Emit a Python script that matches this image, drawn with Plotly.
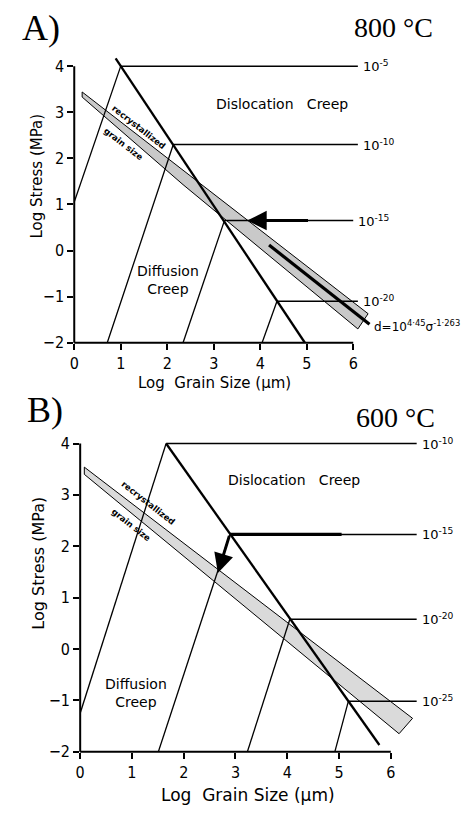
import plotly.graph_objects as go

# ---------------- Panel A (800 °C) ----------------
A_rate_labels = ["10<sup>-5</sup>", "10<sup>-10</sup>", "10<sup>-15</sup>", "10<sup>-20</sup>"]
A_junction_x = [1.0, 2.13, 3.23, 4.36]
A_junction_y = [4.0, 2.3, 0.65, -1.1]
A_diff_base_x = [0.0, 0.71, 2.34, 4.04]
A_diff_base_y = [1.05, -2.0, -2.0, -2.0]
A_disl_end_x = [6.1, 6.1, 6.0, 6.1]
A_boundary_x = [0.89, 4.96]
A_boundary_y = [4.17, -2.0]
A_band_upper_x = [0.17, 6.32]
A_band_upper_y = [3.44, -1.37]
A_band_lower_x = [0.17, 2.34, 6.1]
A_band_lower_y = [3.33, 1.43, -1.7]
A_piezo_x = [4.19, 6.35]
A_piezo_y = [0.12, -1.6]
A_arrow_tail = (5.06, 0.65)
A_arrow_tip = (3.72, 0.65)

# ---------------- Panel B (600 °C) ----------------
B_rate_labels = ["10<sup>-10</sup>", "10<sup>-15</sup>", "10<sup>-20</sup>", "10<sup>-25</sup>"]
B_junction_x = [1.66, 2.89, 4.05, 5.18]
B_junction_y = [4.0, 2.23, 0.58, -1.02]
B_diff_base_x = [0.0, 1.51, 3.23, 4.92]
B_diff_base_y = [-1.25, -2.0, -2.0, -2.0]
B_disl_end_x = [6.5, 6.5, 6.5, 6.5]
B_boundary_x = [1.66, 5.78]
B_boundary_y = [4.0, -1.87]
B_band_upper_x = [0.08, 6.42]
B_band_upper_y = [3.54, -1.35]
B_band_lower_x = [0.08, 6.16]
B_band_lower_y = [3.40, -1.65]
B_thick_x = [2.89, 5.05]
B_thick_y = [2.23, 2.23]
B_arrow_tail = (2.89, 2.23)
B_arrow_tip = (2.66, 1.48)

x_ticks = [0, 1, 2, 3, 4, 5, 6]
y_ticks = [-2, -1, 0, 1, 2, 3, 4]

SANS = "DejaVu Sans"
TICKFONT = "DejaVu Sans Condensed, Liberation Sans Narrow, DejaVu Sans"
SERIF = "Liberation Serif"
W, H = 465, 818

# ---- layout geometry (pixels) ----
A_X0, A_PX, A_YB, A_PY = 70, 47.0, 347, 46.67
A_XR, A_YR = [0, 6.6], [-2, 4.4]
B_X0, B_PX, B_YB, B_PY = 76, 52.33, 761, 52.0
B_XR, B_YR = [0, 6.6], [-2, 4.2]


def dom(x0, ppx, yb, ppy, xr, yr):
    xd = [x0 / W, (x0 + (xr[1] - xr[0]) * ppx) / W]
    yd = [(H - yb) / H, (H - (yb - (yr[1] - yr[0]) * ppy)) / H]
    return xd, yd


A_xd, A_yd = dom(A_X0, A_PX, A_YB, A_PY, A_XR, A_YR)
B_xd, B_yd = dom(B_X0, B_PX, B_YB, B_PY, B_XR, B_YR)

fig = go.Figure()


def add_panel(xa, ya, band_ux, band_uy, band_lx, band_ly, band_fill,
              junc_x, junc_y, base_x, base_y, end_x, bnd_x, bnd_y):
    px = list(band_ux) + list(reversed(band_lx)) + [band_ux[0]]
    py = list(band_uy) + list(reversed(band_ly)) + [band_uy[0]]
    fig.add_trace(go.Scatter(x=px, y=py, xaxis=xa, yaxis=ya, mode="lines",
                             fill="toself", fillcolor=band_fill,
                             line=dict(color="black", width=1),
                             hoverinfo="skip", showlegend=False))
    for bx, by, jx, jy in zip(base_x, base_y, junc_x, junc_y):
        fig.add_trace(go.Scatter(x=[bx, jx], y=[by, jy], xaxis=xa, yaxis=ya,
                                 mode="lines", line=dict(color="black", width=1.3),
                                 hoverinfo="skip", showlegend=False))
    for jx, jy, ex in zip(junc_x, junc_y, end_x):
        fig.add_trace(go.Scatter(x=[jx, ex], y=[jy, jy], xaxis=xa, yaxis=ya,
                                 mode="lines", line=dict(color="black", width=1.5),
                                 hoverinfo="skip", showlegend=False))
    fig.add_trace(go.Scatter(x=bnd_x, y=bnd_y, xaxis=xa, yaxis=ya, mode="lines",
                             line=dict(color="black", width=2.3),
                             hoverinfo="skip", showlegend=False))


add_panel("x", "y", A_band_upper_x, A_band_upper_y, A_band_lower_x, A_band_lower_y,
          "#c9c9c9", A_junction_x, A_junction_y, A_diff_base_x, A_diff_base_y,
          A_disl_end_x, A_boundary_x, A_boundary_y)
add_panel("x2", "y2", B_band_upper_x, B_band_upper_y, B_band_lower_x, B_band_lower_y,
          "#dadada", B_junction_x, B_junction_y, B_diff_base_x, B_diff_base_y,
          B_disl_end_x, B_boundary_x, B_boundary_y)

fig.add_trace(go.Scatter(x=A_piezo_x, y=A_piezo_y, xaxis="x", yaxis="y", mode="lines",
                         line=dict(color="black", width=3.2),
                         hoverinfo="skip", showlegend=False))
fig.add_trace(go.Scatter(x=B_thick_x, y=B_thick_y, xaxis="x2", yaxis="y2", mode="lines",
                         line=dict(color="black", width=3.2),
                         hoverinfo="skip", showlegend=False))

ann = []
for lab, ex, jy in zip(A_rate_labels, A_disl_end_x, A_junction_y):
    ann.append(dict(x=ex, y=jy, xref="x", yref="y", text=lab, showarrow=False,
                    xanchor="left", yanchor="middle", xshift=3,
                    font=dict(family=SANS, size=13, color="black")))
for lab, ex, jy in zip(B_rate_labels, B_disl_end_x, B_junction_y):
    ann.append(dict(x=ex, y=jy, xref="x2", yref="y2", text=lab, showarrow=False,
                    xanchor="left", yanchor="middle", xshift=3,
                    font=dict(family=SANS, size=13, color="black")))
ann.append(dict(x=A_arrow_tip[0], y=A_arrow_tip[1], ax=A_arrow_tail[0], ay=A_arrow_tail[1],
                xref="x", yref="y", axref="x", ayref="y", text="", showarrow=True,
                arrowhead=2, arrowsize=1.3, arrowwidth=3, arrowcolor="black"))
ann.append(dict(x=B_arrow_tip[0], y=B_arrow_tip[1], ax=B_arrow_tail[0], ay=B_arrow_tail[1],
                xref="x2", yref="y2", axref="x2", ayref="y2", text="", showarrow=True,
                arrowhead=2, arrowsize=1.3, arrowwidth=3, arrowcolor="black"))
ann.append(dict(x=A_piezo_x[1], y=A_piezo_y[1], xref="x", yref="y",
                text="d=10<sup>4·45</sup>σ<sup>-1·263</sup>", showarrow=False,
                xanchor="left", yanchor="middle", xshift=3, yshift=-2,
                font=dict(family=SANS, size=12, color="black")))
NB = "\u00a0"
REG = dict(family=SANS, size=14, color="black")
ann += [
    dict(x=4.47, y=3.19, xref="x", yref="y", text="Dislocation" + NB * 3 + "Creep",
         showarrow=False, font=REG),
    dict(x=2.02, y=-0.63, xref="x", yref="y", text="Diffusion<br>Creep",
         showarrow=False, font=REG),
    dict(x=4.13, y=3.29, xref="x2", yref="y2", text="Dislocation" + NB * 3 + "Creep",
         showarrow=False, font=REG),
    dict(x=1.07, y=-0.85, xref="x2", yref="y2", text="Diffusion<br>Creep",
         showarrow=False, font=REG),
]
SMALL = dict(family=SANS, size=8.5, color="black")
ann += [
    dict(x=1.38, y=2.67, xref="x", yref="y", text="<b>recrystallized</b>", textangle=38,
         showarrow=False, font=SMALL),
    dict(x=1.06, y=2.31, xref="x", yref="y", text="<b>grain size</b>", textangle=38,
         showarrow=False, font=SMALL),
    dict(x=1.32, y=2.85, xref="x2", yref="y2", text="<b>recrystallized</b>", textangle=38,
         showarrow=False, font=SMALL),
    dict(x=0.99, y=2.42, xref="x2", yref="y2", text="<b>grain size</b>", textangle=38,
         showarrow=False, font=SMALL),
]
TITLE = dict(family=SANS, size=15, color="black")
ann += [
    dict(x=32 / W, y=(H - 178) / H, xref="paper", yref="paper", text="Log Stress (MPa)",
         textangle=-90, showarrow=False, xanchor="center", yanchor="middle", font=TITLE),
    dict(x=212 / W, y=(H - 388) / H, xref="paper", yref="paper",
         text="Log" + NB + " Grain Size (μm)", showarrow=False,
         xanchor="center", yanchor="middle", font=TITLE),
    dict(x=33 / W, y=(H - 570) / H, xref="paper", yref="paper", text="Log Stress (MPa)",
         textangle=-90, showarrow=False, xanchor="center", yanchor="middle",
         font=dict(family=SANS, size=16, color="black")),
    dict(x=246 / W, y=(H - 805) / H, xref="paper", yref="paper",
         text="Log" + NB + " Grain Size (μm)", showarrow=False,
         xanchor="center", yanchor="middle", font=dict(family=SANS, size=17, color="black")),
]
ann += [
    dict(x=15 / W, y=(H - 28) / H, xref="paper", yref="paper", text="A)",
         xanchor="left", yanchor="middle", showarrow=False,
         font=dict(family=SERIF, size=36, color="black")),
    dict(x=435 / W, y=(H - 28) / H, xref="paper", yref="paper", text="800 °C",
         xanchor="right", yanchor="middle", showarrow=False,
         font=dict(family=SERIF, size=28, color="black")),
    dict(x=20 / W, y=(H - 415) / H, xref="paper", yref="paper", text="B)",
         xanchor="left", yanchor="middle", showarrow=False,
         font=dict(family=SERIF, size=36, color="black")),
    dict(x=437 / W, y=(H - 423) / H, xref="paper", yref="paper", text="600 °C",
         xanchor="right", yanchor="middle", showarrow=False,
         font=dict(family=SERIF, size=28, color="black")),
]

shapes = []
for x0, ppx, yb, ppy in [(A_X0, A_PX, A_YB, A_PY), (B_X0, B_PX, B_YB, B_PY)]:
    shapes.append(dict(type="line", xref="paper", yref="paper",
                       x0=x0 / W, x1=(x0 + 6 * ppx) / W, y0=(H - yb) / H, y1=(H - yb) / H,
                       line=dict(color="black", width=2)))
    shapes.append(dict(type="line", xref="paper", yref="paper",
                       x0=x0 / W, x1=x0 / W, y0=(H - yb) / H, y1=(H - (yb - 6 * ppy)) / H,
                       line=dict(color="black", width=2)))

axis_common = dict(showgrid=False, zeroline=False, showline=False,
                   ticks="outside", ticklen=6, tickwidth=2, tickcolor="black",
                   tickfont=dict(family=TICKFONT, size=16, color="black"), fixedrange=True)

fig.update_layout(
    width=W, height=H, margin=dict(l=0, r=0, t=0, b=0),
    paper_bgcolor="white", plot_bgcolor="rgba(0,0,0,0)", showlegend=False,
    xaxis=dict(domain=A_xd, range=A_XR, tickvals=x_ticks, anchor="y", **axis_common),
    yaxis=dict(domain=A_yd, range=A_YR, tickvals=y_ticks, anchor="x", **axis_common),
    xaxis2=dict(domain=B_xd, range=B_XR, tickvals=x_ticks, anchor="y2", **axis_common),
    yaxis2=dict(domain=B_yd, range=B_YR, tickvals=y_ticks, anchor="x2", **axis_common),
    annotations=ann, shapes=shapes,
)

fig.write_html(
    "out.html",
    config={"displayModeBar": False},
    post_script="document.body.style.margin='0';document.body.style.padding='0';"
                "document.body.style.overflow='hidden';"
                "document.documentElement.style.overflow='hidden';",
)
